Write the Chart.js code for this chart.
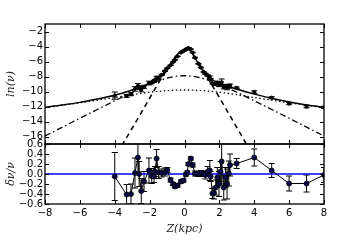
<!DOCTYPE html>
<html>
<head>
<meta charset="utf-8">
<script src="https://cdn.jsdelivr.net/npm/chart.js@4/dist/chart.umd.min.js"></script>
<style>
  body { margin: 0; background: #fff; }
  #wrap { position: relative; width: 360px; height: 240px; }
  canvas { position: absolute; left: 0; }
</style>
</head>
<body>
<div id="wrap">
  <canvas id="topChart" width="360" height="150" style="top:0"></canvas>
  <canvas id="residChart" width="360" height="106" style="top:134px"></canvas>
</div>
<script>
// tick labels
const xTicks = [-8, -6, -4, -2, 0, 2, 4, 6, 8];
const yTopTicks = [-2, -4, -6, -8, -10, -12, -14, -16];
const yBotTicks = [0.6, 0.4, 0.2, 0.0, -0.2, -0.4, -0.6];

// total model (solid)
const zFit = [-8, -7, -6, -5, -4, -3, -2.5, -2, -1.5, -1, -0.75, -0.5, -0.25, 0, 0.15, 0.3, 0.45, 0.6, 0.85, 1.1, 1.5, 2, 2.5, 3, 4, 5, 6, 7, 8];
const lnTotal = [-12.1, -11.8, -11.45, -11.0, -10.5, -9.8, -9.4, -8.85, -8.2, -7.0, -6.2, -5.3, -4.7, -4.4, -4.33, -4.45, -4.9, -5.5, -6.5, -7.4, -8.3, -8.9, -9.3, -9.7, -10.35, -10.9, -11.4, -11.8, -12.1];

// thin disk (dashed)
const zThin = [-3.6, -3, -2.5, -2, -1.5, -1, -0.75, -0.5, -0.25, 0, 0.15, 0.3, 0.5, 0.75, 1, 1.5, 2, 2.5, 3, 3.5, 3.6];
const lnThin = [-17.2, -14.9, -12.9, -10.9, -8.9, -7.1, -6.25, -5.4, -4.75, -4.45, -4.37, -4.5, -5.1, -6.0, -6.95, -8.85, -10.8, -12.8, -14.8, -16.8, -17.2];

// thick disk (dash-dot)
const zThick = [-8, -7, -6, -5, -4, -3, -2, -1.5, -1, -0.5, 0, 0.5, 1, 1.5, 2, 3, 4, 5, 6, 7, 8];
const lnThick = [-15.93, -14.75, -13.57, -12.4, -11.24, -10.1, -9.05, -8.59, -8.23, -7.98, -7.9, -7.98, -8.23, -8.59, -9.05, -10.1, -11.24, -12.4, -13.57, -14.75, -15.93];

// halo (dotted)
const zHalo = [-8, -7, -6, -5, -4, -3, -2, -1, 0, 1, 2, 3, 4, 5, 6, 7, 8];
const lnHalo = [-12.15, -11.82, -11.5, -11.15, -10.8, -10.42, -10.1, -9.88, -9.8, -9.88, -10.1, -10.42, -10.8, -11.15, -11.5, -11.82, -12.15];

// observed points
const zObs = [-4, -3.32, -3.07, -2.84, -2.67, -2.6, -2.48, -2.32, -2.04, -1.88,
  -1.75, -1.7, -1.6, -1.48, -1.31, -1.12, -0.99, -0.8, -0.65, -0.55,
  -0.4, -0.2, -0.06, 0.08, 0.16, 0.22, 0.36, 0.47, 0.6, 0.8,
  0.94, 1.1, 1.2, 1.33, 1.45, 1.5, 1.6, 1.69, 1.79, 1.88,
  1.98, 2.07, 2.13, 2.25, 2.35, 2.44, 2.54, 2.61, 2.99, 4,
  5, 6, 7, 8];
const lnObs = [-10.55, -10.58, -10.36, -9.65, -9.25, -9.48, -9.8, -9.38, -8.87, -8.82,
  -8.65, -8.49, -8.15, -8.22, -7.78, -7.26, -6.89, -6.49, -6.06, -5.77,
  -5.32, -4.8, -4.61, -4.38, -4.30, -4.2, -4.36, -4.81, -5.49, -6.3,
  -6.8, -7.4, -7.64, -7.87, -8.12, -8.35, -8.91, -9.01, -8.96, -8.83,
  -9.1, -8.91, -8.78, -9.41, -9.25, -9.47, -9.32, -9.22, -9.51, -10.07,
  -10.83, -11.61, -12.01, -12.12];
const resid = [-0.05, -0.41, -0.40, 0.02, 0.33, 0.0, -0.34, -0.15, 0.07, -0.04,
  -0.05, 0.05, 0.31, 0.03, 0.02, 0.04, 0.08, -0.12, -0.2, -0.25,
  -0.23, -0.15, -0.13, -0.01, 0.03, 0.2, 0.31, 0.18, 0.01, 0.0,
  0.02, 0.0, -0.02, 0.05, 0.07, -0.05, -0.39, -0.38, -0.27, -0.07,
  -0.2, 0.05, 0.25, -0.27, -0.07, -0.2, 0.01, 0.18, 0.21, 0.33,
  0.07, -0.19, -0.19, -0.02];
const residErr = [0.48, 0.2, 0.2, 0.3, 0.3, 0.25, 0.25, 0.2, 0.25, 0.15,
  0.12, 0.1, 0.18, 0.12, 0.08, 0.08, 0.05, 0.04, 0.03, 0.03,
  0.03, 0.03, 0.03, 0.03, 0.03, 0.03, 0.03, 0.04, 0.05, 0.05,
  0.05, 0.05, 0.08, 0.1, 0.2, 0.1, 0.1, 0.12, 0.15, 0.2,
  0.25, 0.2, 0.45, 0.25, 0.2, 0.3, 0.25, 0.22, 0.1, 0.17,
  0.14, 0.15, 0.17, 0.15];

const pts = (xs, ys) => xs.map((x, i) => ({x: x, y: ys[i]}));
const minus = s => String(s).replace('-', '\u2212');
const tickFont = {family: 'DejaVu Sans', size: 10};
const titleFont = {family: 'DejaVu Serif', style: 'italic', size: 11};

// frame, inward ticks on all four sides, error bars
const axesPlugin = {
    id: 'axesFrame',
    beforeDatasetsDraw(chart) {
        const ctx = chart.ctx, a = chart.chartArea;
        const xs = chart.scales.x, ys = chart.scales.y;
        ctx.save();
        ctx.beginPath();
        ctx.rect(a.left, a.top, a.right - a.left, a.bottom - a.top);
        ctx.clip();
        ctx.strokeStyle = '#000';
        ctx.lineWidth = 1;
        chart.data.datasets.forEach(ds => {
            if (!ds.errors) return;
            ds.data.forEach((p, i) => {
                const px = xs.getPixelForValue(p.x);
                const y1 = ys.getPixelForValue(p.y + ds.errors[i]);
                const y2 = ys.getPixelForValue(p.y - ds.errors[i]);
                ctx.beginPath();
                ctx.moveTo(px, y1); ctx.lineTo(px, y2);
                ctx.moveTo(px - 3, y1); ctx.lineTo(px + 3, y1);
                ctx.moveTo(px - 3, y2); ctx.lineTo(px + 3, y2);
                ctx.stroke();
            });
        });
        ctx.restore();
    },
    afterDraw(chart) {
        const ctx = chart.ctx, a = chart.chartArea;
        const xs = chart.scales.x, ys = chart.scales.y;
        ctx.save();
        ctx.strokeStyle = '#000';
        ctx.lineWidth = 1;
        ctx.beginPath();
        xs.ticks.forEach(t => {
            const px = Math.round(xs.getPixelForValue(t.value)) + 0.5;
            ctx.moveTo(px, a.bottom); ctx.lineTo(px, a.bottom - 4);
            ctx.moveTo(px, a.top); ctx.lineTo(px, a.top + 4);
        });
        ys.ticks.forEach(t => {
            const py = Math.round(ys.getPixelForValue(t.value)) + 0.5;
            ctx.moveTo(a.left, py); ctx.lineTo(a.left + 4, py);
            ctx.moveTo(a.right, py); ctx.lineTo(a.right - 4, py);
        });
        ctx.stroke();
        ctx.lineWidth = 1.3;
        ctx.strokeRect(a.left, a.top, a.right - a.left, a.bottom - a.top);
        ctx.restore();
    }
};

function xScale(showLabels) {
    return {
        type: 'linear',
        min: xTicks[0],
        max: xTicks[xTicks.length - 1],
        afterBuildTicks: s => { s.ticks = xTicks.map(v => ({value: v})); },
        afterFit: s => { s.height = showLabels ? 36 : 0; s.paddingLeft = 0; s.paddingRight = 0; },
        grid: {display: false, drawTicks: false},
        border: {display: false},
        ticks: {display: showLabels, autoSkip: false, color: '#000', font: tickFont, padding: 3, maxRotation: 0,
                callback: v => minus(v)},
        title: {display: showLabels, text: 'Z(kpc)', color: '#222', font: titleFont,
                padding: {top: 0, bottom: 4}}
    };
}

function yScale(min, max, tickList, label, fmt) {
    return {
        type: 'linear',
        min: min,
        max: max,
        afterBuildTicks: s => { s.ticks = tickList.map(v => ({value: v})); },
        afterFit: s => { s.width = 45; s.paddingTop = 0; s.paddingBottom = 0; },
        grid: {display: false, drawTicks: false},
        border: {display: false},
        ticks: {autoSkip: false, color: '#000', font: tickFont, padding: 2, callback: fmt},
        title: {display: true, text: label, color: '#222', font: titleFont,
                padding: {top: 5, bottom: 0}}
    };
}

const common = {
    responsive: false,
    animation: false,
    devicePixelRatio: 1,
    plugins: {legend: {display: false}, tooltip: {enabled: false}},
    elements: {line: {cubicInterpolationMode: 'monotone'}}
};

new Chart(document.getElementById('topChart'), {
    type: 'line',
    data: {
        datasets: [
            {data: pts(zObs, lnObs), errors: residErr, showLine: false, pointRadius: 1.6,
             pointBackgroundColor: '#000', pointBorderColor: '#000', order: 0},
            {data: pts(zFit, lnTotal), borderColor: '#000', borderWidth: 1.5, pointRadius: 0, order: 1},
            {data: pts(zThin, lnThin), borderColor: '#000', borderWidth: 1.5, borderDash: [5, 4], pointRadius: 0, order: 2},
            {data: pts(zThick, lnThick), borderColor: '#000', borderWidth: 1.3, borderDash: [6, 3, 1.5, 3], pointRadius: 0, order: 2},
            {data: pts(zHalo, lnHalo), borderColor: '#000', borderWidth: 1.3, borderDash: [1.5, 2.5], pointRadius: 0, order: 2}
        ]
    },
    options: Object.assign({}, common, {
        layout: {padding: {top: 24, right: 36, bottom: 6, left: 0}},
        scales: {
            x: xScale(false),
            y: yScale(-17, -1, yTopTicks, 'ln(\u03bd)', v => minus(v))
        }
    }),
    plugins: [axesPlugin]
});

new Chart(document.getElementById('residChart'), {
    type: 'line',
    data: {
        datasets: [
            {data: pts(zObs, resid), errors: residErr, borderColor: '#000', borderWidth: 1,
             pointRadius: 2.5, pointBackgroundColor: '#0a0a4a', pointBorderColor: '#000',
             pointBorderWidth: 0.8, cubicInterpolationMode: 'default', tension: 0, order: 0},
            {data: [{x: xTicks[0], y: 0}, {x: xTicks[xTicks.length - 1], y: 0}],
             borderColor: '#0000ff', borderWidth: 1.5, pointRadius: 0, order: 1}
        ]
    },
    options: Object.assign({}, common, {
        layout: {padding: {top: 10, right: 36, bottom: 0, left: 0}},
        scales: {
            x: xScale(true),
            y: yScale(-0.6, 0.6, yBotTicks, '\u03b4\u03bd/\u03bd', v => minus(v.toFixed(1)))
        }
    }),
    plugins: [axesPlugin]
});
</script>
</body>
</html>
